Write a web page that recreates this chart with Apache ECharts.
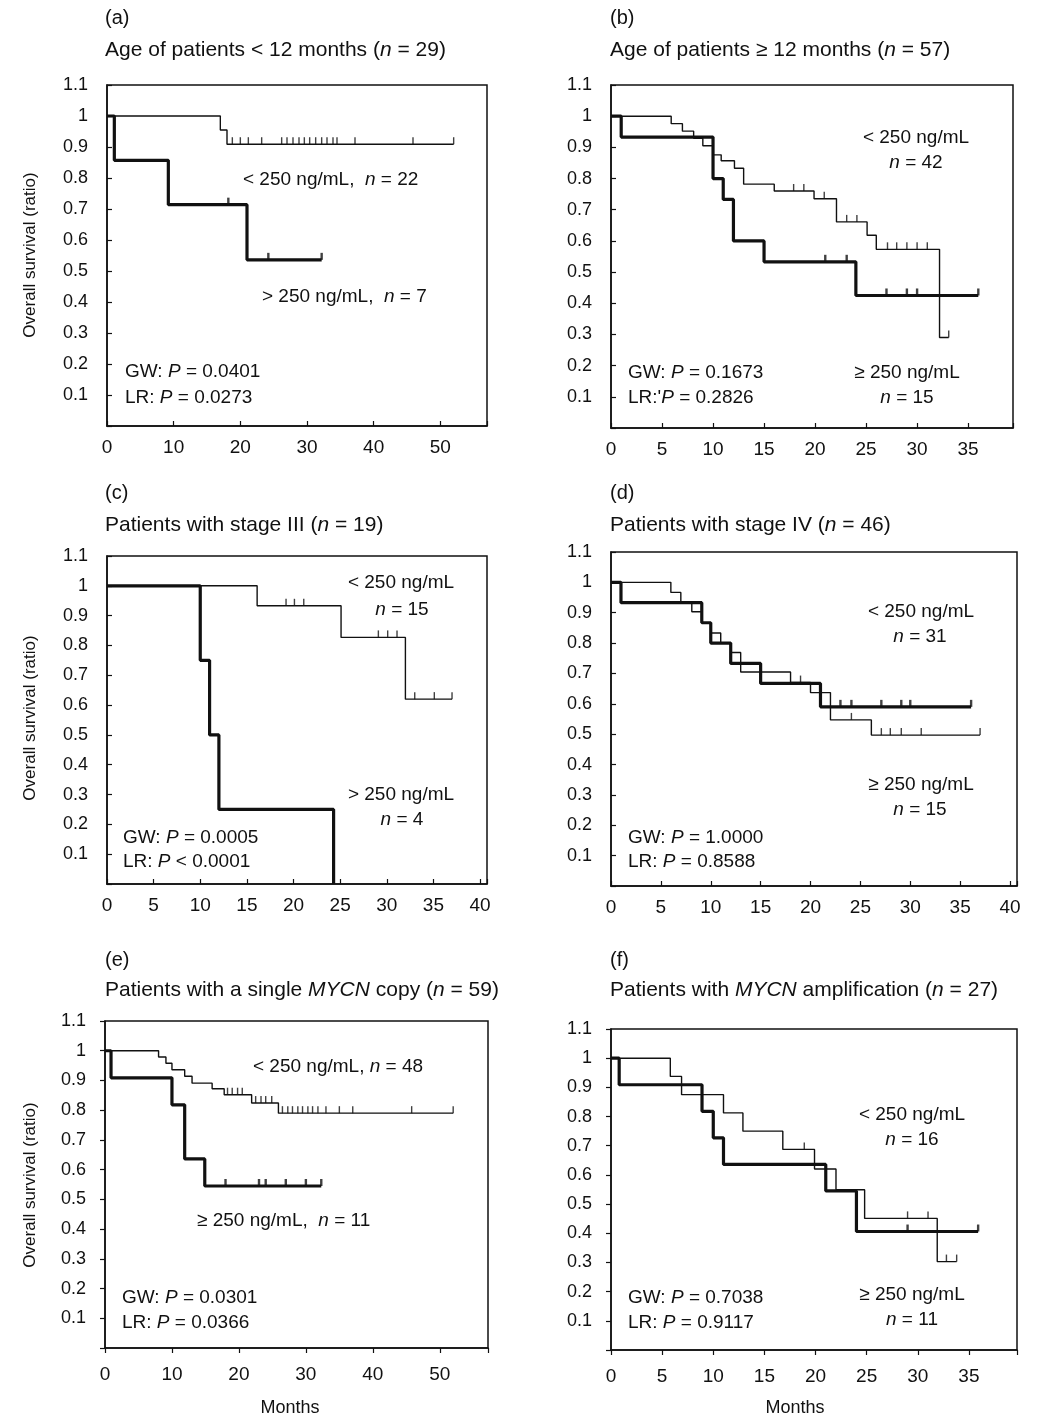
<!DOCTYPE html>
<html><head><meta charset="utf-8">
<script src="https://cdn.jsdelivr.net/npm/echarts@6/dist/echarts.min.js"></script>
<style>html,body{margin:0;padding:0;background:#fff}#c{width:1047px;height:1418px}</style>
</head><body><div id="c"></div>
<script>
// ---------- DATA (Kaplan–Meier step curves: [month, survival]) ----------
const A_LOW = [[0,1],[17,0.955],[18,0.909],[52,0.909]];
const A_LOW_CENSOR = [18.8,20,21.2,23.2,26.2,27,27.9,28.8,29.6,30.4,31.3,32.2,33,33.9,34.5,37.2,45.9,52];
const A_HIGH = [[0,1],[1.1,0.857],[9.2,0.714],[21,0.536],[32.2,0.536]];
const A_HIGH_CENSOR = [18.2,24.2,32.2];

const B_LOW = [[0,1],[5.9,0.976],[7,0.952],[8.1,0.929],[9,0.905],[10,0.876],[10.8,0.857],[12.1,0.833],[13,0.782],[16,0.76],[19.9,0.735],[22.1,0.661],[25.1,0.618],[26,0.573],[32.2,0.29],[33.1,0.29]];
const B_LOW_CENSOR = [17.9,18.9,20.9,23.1,24.1,27.1,28,29,30,31,33.1];
const B_HIGH = [[0,1],[1,0.933],[10,0.8],[11,0.733],[12,0.6],[15,0.533],[24,0.425],[36,0.425]];
const B_HIGH_CENSOR = [21,23.1,27,29,30,36];

const C_LOW = [[0,1],[16.1,0.933],[25.1,0.827],[32,0.62],[37,0.62]];
const C_LOW_CENSOR = [19.2,20.1,21.1,29.1,30.1,31.1,33,35.1,37];
const C_HIGH = [[0,1],[10,0.75],[11,0.5],[12,0.25],[24.3,0]];
const C_HIGH_CENSOR = [];

const D_LOW = [[0,1],[6,0.967],[7,0.935],[8.1,0.903],[9.1,0.867],[10,0.833],[11,0.8],[12,0.769],[13,0.705],[18,0.67],[20,0.637],[22,0.547],[26.1,0.497],[37,0.497]];
const D_LOW_CENSOR = [19,24.1,27.1,28,29.1,31.1,37];
const D_HIGH = [[0,1],[1,0.933],[9.1,0.867],[10,0.8],[12,0.733],[15,0.667],[21,0.59],[36.1,0.59]];
const D_HIGH_CENSOR = [23,24.1,27.1,29.1,30,36.1];

const E_LOW = [[0,1],[8,0.979],[9.1,0.958],[10,0.936],[11.9,0.914],[13,0.891],[16,0.872],[17.8,0.852],[21.9,0.824],[25.9,0.79],[52,0.79]];
const E_LOW_CENSOR = [18.3,19,19.8,20.5,22.5,23.3,24,24.9,26.5,27.3,28,28.8,29.5,30.3,31,31.8,33,35,37,45.8,52];
const E_HIGH = [[0,1],[0.9,0.909],[10,0.818],[11.9,0.636],[14.9,0.545],[32.3,0.545]];
const E_HIGH_CENSOR = [18,23,24,27,30,32.3];

const F_LOW = [[0,1],[5.8,0.9375],[6.9,0.875],[11,0.8125],[12.9,0.75],[16.8,0.6875],[19.9,0.62],[22,0.549],[24.8,0.451],[31.9,0.303],[33.8,0.303]];
const F_LOW_CENSOR = [18.9,29,31,32.8,33.8];
const F_HIGH = [[0,1],[0.8,0.909],[8.9,0.818],[10,0.727],[11,0.636],[21,0.545],[24,0.406],[35.9,0.406]];
const F_HIGH_CENSOR = [29,35.9];

// ---------- TEXTS ----------
const TAGS = ['(a)','(b)','(c)','(d)','(e)','(f)'];
const TITLES = [
  'Age of patients < 12 months ({i|n} = 29)',
  'Age of patients \u2265 12 months ({i|n} = 57)',
  'Patients with stage III ({i|n} = 19)',
  'Patients with stage IV ({i|n} = 46)',
  'Patients with a single {i|MYCN} copy ({i|n} = 59)',
  'Patients with {i|MYCN} amplification ({i|n} = 27)'
];
const Y_NAME = 'Overall survival (ratio)';
const X_NAME = 'Months';

// ---------- LAYOUT ----------
const FONT = '"Liberation Sans", Arial, Helvetica, sans-serif';
const INK = '#111';
const panels = [
  {low:A_LOW, lowC:A_LOW_CENSOR, high:A_HIGH, highC:A_HIGH_CENSOR, xMax:57, xInt:10,
   grid:{left:107,top:85,width:380,height:341}, inside:true, tag:[105,18], title:[105,50],
   notes:[['< 250 ng/mL,  {i|n} = 22',243,180,'left'],['> 250 ng/mL,  {i|n} = 7',262,297,'left'],
          ['GW: {i|P} = 0.0401',125,372,'left'],['LR: {i|P} = 0.0273',125,398,'left']]},
  {low:B_LOW, lowC:B_LOW_CENSOR, high:B_HIGH, highC:B_HIGH_CENSOR, xMax:39.4, xInt:5,
   grid:{left:611,top:85,width:402,height:343}, inside:true, tag:[610,18], title:[610,50],
   notes:[['< 250 ng/mL',916,138,'center'],['{i|n} = 42',916,163,'center'],
          ['\u2265 250 ng/mL',907,373,'center'],['{i|n} = 15',907,398,'center'],
          ['GW: {i|P} = 0.1673',628,373,'left'],["LR:'{i|P} = 0.2826",628,398,'left']]},
  {low:C_LOW, lowC:C_LOW_CENSOR, high:C_HIGH, highC:C_HIGH_CENSOR, xMax:40.75, xInt:5,
   grid:{left:107,top:556,width:380,height:328}, inside:true, tag:[105,493], title:[105,525],
   notes:[['< 250 ng/mL',401,583,'center'],['{i|n} = 15',402,610,'center'],
          ['> 250 ng/mL',401,795,'center'],['{i|n} = 4',402,820,'center'],
          ['GW: {i|P} = 0.0005',123,838,'left'],['LR: {i|P} < 0.0001',123,862,'left']]},
  {low:D_LOW, lowC:D_LOW_CENSOR, high:D_HIGH, highC:D_HIGH_CENSOR, xMax:40.7, xInt:5,
   grid:{left:611,top:552,width:406,height:334}, inside:true, tag:[610,493], title:[610,525],
   notes:[['< 250 ng/mL',921,612,'center'],['{i|n} = 31',920,637,'center'],
          ['\u2265 250 ng/mL',921,785,'center'],['{i|n} = 15',920,810,'center'],
          ['GW: {i|P} = 1.0000',628,838,'left'],['LR: {i|P} = 0.8588',628,862,'left']]},
  {low:E_LOW, lowC:E_LOW_CENSOR, high:E_HIGH, highC:E_HIGH_CENSOR, xMax:57.2, xInt:10,
   grid:{left:105,top:1021,width:383,height:327}, inside:false, tag:[105,960], title:[105,990],
   notes:[['< 250 ng/mL, {i|n} = 48',253,1067,'left'],['\u2265 250 ng/mL,  {i|n} = 11',197,1221,'left'],
          ['GW: {i|P} = 0.0301',122,1298,'left'],['LR: {i|P} = 0.0366',122,1323,'left']]},
  {low:F_LOW, lowC:F_LOW_CENSOR, high:F_HIGH, highC:F_HIGH_CENSOR, xMax:39.7, xInt:5,
   grid:{left:611,top:1029,width:406,height:321}, inside:false, tag:[610,960], title:[610,990],
   notes:[['< 250 ng/mL',912,1115,'center'],['{i|n} = 16',912,1140,'center'],
          ['\u2265 250 ng/mL',912,1295,'center'],['{i|n} = 11',912,1320,'center'],
          ['GW: {i|P} = 0.7038',628,1298,'left'],['LR: {i|P} = 0.9117',628,1323,'left']]}
];
const Y_NAME_POS = [[30,255],[30,718],[30,1185]];
const X_NAME_POS = [[290,1408],[795,1408]];

function survAt(curve, t) {
  let s = curve[0][1];
  for (const p of curve) { if (p[0] <= t + 1e-9) s = p[1]; }
  return s;
}
function richFor(size) {
  return {i:{fontStyle:'italic', fontFamily:FONT, fontSize:size, fill:INK}};
}

const grids = [], xAxes = [], yAxes = [], series = [], graphics = [];

panels.forEach((p, k) => {
  grids.push(Object.assign({show:true, borderColor:INK, borderWidth:1.5, backgroundColor:'transparent'}, p.grid));
  xAxes.push({
    type:'value', gridIndex:k, min:0, max:p.xMax, interval:p.xInt,
    axisLine:{show:true, onZero:false, lineStyle:{color:INK, width:1.5}},
    axisTick:{show:true, inside:p.inside, length:5, lineStyle:{color:INK, width:1.2}},
    axisLabel:{color:INK, fontFamily:FONT, fontSize:19, margin:p.inside?12:17,
      formatter:v => (Math.abs(v / p.xInt - Math.round(v / p.xInt)) < 1e-6 ? String(Math.round(v)) : '')},
    splitLine:{show:false}
  });
  yAxes.push({
    type:'value', gridIndex:k, min:0, max:1.1, interval:0.1,
    axisLine:{show:true, onZero:false, lineStyle:{color:INK, width:1.5}},
    axisTick:{show:true, inside:p.inside, length:5, lineStyle:{color:INK, width:1.2}},
    axisLabel:{color:INK, fontFamily:FONT, fontSize:18, margin:19,
      formatter:v => (v < 0.05 ? '' : (Math.abs(v - 1) < 1e-6 ? '1' : v.toFixed(1)))},
    splitLine:{show:false}
  });
  [[p.low, p.lowC, 1.4], [p.high, p.highC, 3.2]].forEach(([curve, cens, w]) => {
    series.push({
      type:'line', xAxisIndex:k, yAxisIndex:k, data:curve, step:'end',
      showSymbol:false, symbol:'none', silent:true, animation:false,
      lineStyle:{color:INK, width:w}, z:w > 2 ? 3 : 4
    });
    if (cens.length) series.push({
      type:'scatter', xAxisIndex:k, yAxisIndex:k, silent:true, animation:false,
      data:cens.map(t => [t, survAt(curve, t)]),
      symbol:'rect', symbolSize:[w > 2 ? 2.4 : 1.4, 7], symbolOffset:[0, -3.5],
      itemStyle:{color:INK}, z:5
    });
  });
  graphics.push({type:'text', x:p.tag[0], y:p.tag[1],
    style:{text:TAGS[k], fontSize:20, fontFamily:FONT, fill:INK, verticalAlign:'middle', align:'left'}});
  graphics.push({type:'text', x:p.title[0], y:p.title[1],
    style:{text:TITLES[k], fontSize:21, fontFamily:FONT, fill:INK, verticalAlign:'middle', align:'left', rich:richFor(21)}});
  p.notes.forEach(n => graphics.push({type:'text', x:n[1], y:n[2],
    style:{text:n[0], fontSize:19, fontFamily:FONT, fill:INK, verticalAlign:'middle', align:n[3], rich:richFor(19)}}));
});
Y_NAME_POS.forEach(q => graphics.push({type:'text', x:q[0], y:q[1], rotation:Math.PI/2,
  style:{text:Y_NAME, fontSize:17, fontFamily:FONT, fill:INK, align:'center', verticalAlign:'middle'}}));
X_NAME_POS.forEach(q => graphics.push({type:'text', x:q[0], y:q[1],
  style:{text:X_NAME, fontSize:18, fontFamily:FONT, fill:INK, align:'center', verticalAlign:'middle'}}));

const chart = echarts.init(document.getElementById('c'), null, {renderer:'canvas'});
chart.setOption({
  backgroundColor:'#fff', animation:false,
  grid:grids, xAxis:xAxes, yAxis:yAxes, series:series, graphic:graphics
});
</script></body></html>
